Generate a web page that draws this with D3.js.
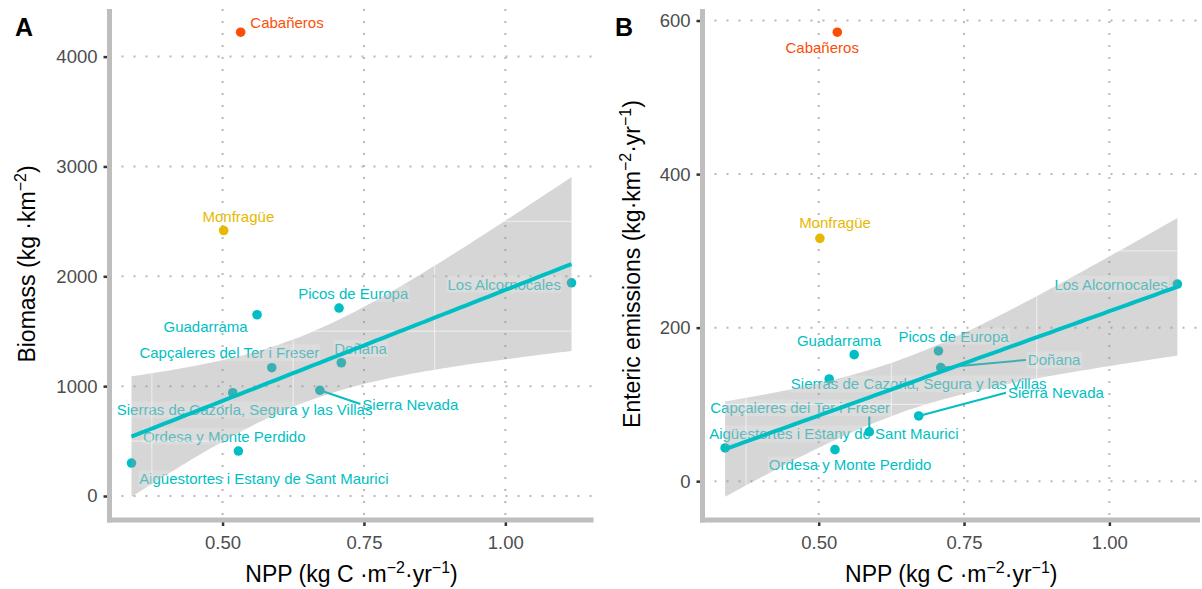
<!DOCTYPE html>
<html>
<head>
<meta charset="utf-8">
<script src="https://cdn.jsdelivr.net/npm/d3@7"></script>
<style>
body { margin: 0; background: #fff; }
text { font-family: "Liberation Sans", Arial, sans-serif; }
</style>
</head>
<body>
<svg width="1202" height="589"></svg>
<script>
// one entry per national park, same order in every array
var parks = ["Cabañeros", "Monfragüe", "Los Alcornocales", "Picos de Europa", "Guadarrama",
  "Capçaleres del Ter i Freser", "Doñana", "Sierras de Cazorla, Segura y las Villas",
  "Sierra Nevada", "Ordesa y Monte Perdido", "Aigüestortes i Estany de Sant Maurici"];
var groups = ["high", "mid", "fit", "fit", "fit", "fit", "fit", "fit", "fit", "fit", "fit"];
var npp = [0.532, 0.502, 1.117, 0.706, 0.561, 0.587, 0.710, 0.518, 0.672, 0.528, 0.339];
var biomass = [4222, 2417, 1941, 1711, 1650, 1168, 1213, 940, 962, 409, 300];
var enteric = [584.8, 316.3, 256.8, 169.6, 164.8, 64.2, 147.9, 133.1, 85, 41.1, 43.3];

// where the repelled labels ended up, in data units
var labelNppA = [0.614, 0.528, 0.998, 0.731, 0.470, 0.512, 0.744, 0.539, 0.832, 0.503, 0.573];
var labelValA = [4313, 2548, 1929, 1844, 1540, 1304, 1344, 783, 837, 546, 155];
var labelNppB = [0.506, 0.528, 1.003, 0.732, 0.535, 0.468, 0.905, 0.672, 0.908, 0.554, 0.526];
var labelValB = [564.3, 336.6, 256.8, 189.1, 183.9, 95.4, 157.9, 126.6, 115.3, 21.2, 61.6];
var segmentsA = ["Sierra Nevada"];
var segmentsB = ["Doñana", "Sierra Nevada", "Capçaleres del Ter i Freser"];

var xTicks = [0.5, 0.75, 1.0];
var yTicksA = [0, 1000, 2000, 3000, 4000];
var yTicksB = [0, 200, 400, 600];

var colors = {high: "#FC4E07", mid: "#E7B800", fit: "#00BFC4"};
var tCrit = 2.364624; // t(0.975, df = 7)

var svg = d3.select("svg");

function fitLine(xs, ys) {
  var n = xs.length, mx = d3.mean(xs), my = d3.mean(ys);
  var sxx = d3.sum(xs, function(x) { return (x - mx) * (x - mx); });
  var sxy = d3.sum(xs, function(x, i) { return (x - mx) * (ys[i] - my); });
  var b = sxy / sxx, a = my - b * mx;
  var sse = d3.sum(xs, function(x, i) { var r = ys[i] - (a + b * x); return r * r; });
  var s = Math.sqrt(sse / (n - 2));
  var lo = d3.min(xs), hi = d3.max(xs);
  return d3.range(80).map(function(k) {
    var x = lo + (hi - lo) * k / 79;
    var yh = a + b * x;
    var se = s * Math.sqrt(1 / n + (x - mx) * (x - mx) / sxx);
    return {x: x, y: yh, lo: yh - tCrit * se, hi: yh + tCrit * se};
  });
}

function expand(lo, hi) {
  var d = (hi - lo) * 0.05;
  return [lo - d, hi + d];
}

function title(sel, parts) {
  parts.forEach(function(p) {
    if (p[1]) {
      sel.append("tspan").attr("font-size", "16px").attr("dy", -9).text(p[0]);
    } else {
      sel.append("tspan").attr("font-size", "23px").attr("dy", p[2] || 0).text(p[0]);
    }
  });
}

function panel(cfg) {
  var L = cfg.left, R = cfg.right, T = 9, B = 520;
  var values = cfg.values;
  var fitIdx = d3.range(parks.length).filter(function(i) { return groups[i] == "fit"; });
  var band = fitLine(fitIdx.map(function(i) { return npp[i]; }), fitIdx.map(function(i) { return values[i]; }));

  var x = d3.scaleLinear().domain(expand(d3.min(npp), d3.max(npp))).range([L, R]);
  var ymin = Math.min(d3.min(values), d3.min(band, function(d) { return d.lo; }));
  var ymax = Math.max(d3.max(values), d3.max(band, function(d) { return d.hi; }));
  var y = d3.scaleLinear().domain(expand(ymin, ymax)).range([B, T]);

  var g = svg.append("g");

  // dotted major grid
  g.selectAll(".gx").data(xTicks).enter().append("line")
    .attr("x1", x).attr("x2", x).attr("y1", T).attr("y2", B)
    .attr("stroke", "#b8b8b8").attr("stroke-width", 2).attr("stroke-dasharray", "2 10");
  g.selectAll(".gy").data(cfg.yTicks).enter().append("line")
    .attr("y1", y).attr("y2", y).attr("x1", L + 12).attr("x2", R)
    .attr("stroke", "#b8b8b8").attr("stroke-width", 2).attr("stroke-dasharray", "2 10");

  // points
  g.selectAll("circle").data(parks).enter().append("circle")
    .attr("cx", function(d, i) { return x(npp[i]); })
    .attr("cy", function(d, i) { return y(values[i]); })
    .attr("r", 4.8)
    .attr("fill", function(d, i) { return colors[groups[i]]; });

  // labels
  var labels = g.selectAll(".lab").data(parks).enter().append("text")
    .attr("x", function(d, i) { return x(cfg.labelX[i]); })
    .attr("y", function(d, i) { return y(cfg.labelY[i]); })
    .attr("text-anchor", "middle").attr("dominant-baseline", "central")
    .attr("font-size", "15px")
    .attr("fill", function(d, i) { return colors[groups[i]]; })
    .text(function(d) { return d; });

  var boxes = [];
  labels.each(function(d, i) { boxes[i] = this.getBBox(); });

  // segments to the label box
  parks.forEach(function(p, i) {
    if (cfg.segments.indexOf(p) < 0) return;
    var bb = boxes[i], px = x(npp[i]), py = y(values[i]), ex, ey;
    if (px < bb.x || px > bb.x + bb.width) {
      ex = px < bb.x ? bb.x - 2 : bb.x + bb.width + 2;
      ey = bb.y + bb.height / 2;
    } else {
      ex = px;
      ey = py > bb.y ? bb.y + bb.height : bb.y;
    }
    g.insert("line", "text").attr("x1", px).attr("y1", py).attr("x2", ex).attr("y2", ey)
      .attr("stroke", colors[groups[i]]).attr("stroke-width", 2);
  });

  // confidence band
  var area = d3.area().x(function(d) { return x(d.x); })
    .y0(function(d) { return y(d.lo); }).y1(function(d) { return y(d.hi); });
  g.append("path").attr("d", area(band)).attr("fill", "#999999").attr("fill-opacity", 0.4);

  // minor grid and label boxes only show through the band
  svg.append("clipPath").attr("id", "clip" + cfg.name)
    .append("path").attr("d", area(band));
  var over = g.append("g").attr("clip-path", "url(#clip" + cfg.name + ")");
  var xMinor = d3.range(0.375, 1.2, 0.25);
  over.selectAll(".mx").data(xMinor).enter().append("line")
    .attr("x1", x).attr("x2", x).attr("y1", T).attr("y2", B)
    .attr("stroke", "#fff").attr("stroke-width", 1.2).attr("stroke-opacity", 0.5);
  over.selectAll(".my").data(cfg.yMinor).enter().append("line")
    .attr("y1", y).attr("y2", y).attr("x1", L).attr("x2", R)
    .attr("stroke", "#fff").attr("stroke-width", 1.2).attr("stroke-opacity", 0.5);
  over.selectAll("rect").data(boxes).enter().append("rect")
    .attr("x", function(b) { return b.x - 1; }).attr("y", function(b) { return b.y; })
    .attr("width", function(b) { return b.width + 2; }).attr("height", function(b) { return b.height; })
    .attr("fill", "#fff").attr("fill-opacity", 0.15);

  // fitted line
  g.append("path")
    .attr("d", d3.line().x(function(d) { return x(d.x); }).y(function(d) { return y(d.y); })(band))
    .attr("fill", "none").attr("stroke", colors.fit).attr("stroke-width", 4);

  // axes
  var ax = g.append("g").attr("transform", "translate(0," + B + ")")
    .call(d3.axisBottom(x).tickValues(xTicks).tickFormat(d3.format(".2f")).tickSize(6).tickPadding(10));
  var ay = g.append("g").attr("transform", "translate(" + L + ",0)")
    .call(d3.axisLeft(y).tickValues(cfg.yTicks).tickFormat(d3.format("d")).tickSize(6).tickPadding(6));
  [ax, ay].forEach(function(a) {
    a.select(".domain").remove();
    a.selectAll(".tick line").attr("stroke", "#333").attr("stroke-width", 2.5);
    a.selectAll(".tick text").attr("fill", "#4d4d4d").attr("font-size", "18.5px")
      .attr("font-family", "Liberation Sans, Arial, sans-serif");
  });
  g.append("line").attr("x1", L).attr("x2", L).attr("y1", T).attr("y2", B + 2.5)
    .attr("stroke", "#bebebe").attr("stroke-width", 5);
  g.append("line").attr("x1", L - 2.5).attr("x2", R).attr("y1", B).attr("y2", B)
    .attr("stroke", "#bebebe").attr("stroke-width", 5);

  // titles
  g.append("text").attr("x", cfg.letterX).attr("y", 36)
    .attr("font-size", "25px").attr("font-weight", "bold").text(cfg.name);
  title(g.append("text").attr("x", (L + R) / 2).attr("y", 582).attr("text-anchor", "middle"),
    [["NPP (kg C ·m", false], ["−2", true], ["·yr", false, 9], ["−1", true], [")", false, 9]]);
  title(g.append("text").attr("transform", "translate(" + cfg.ytitleX + ",264) rotate(-90)")
    .attr("text-anchor", "middle"), cfg.ytitle);
}

panel({
  name: "A", left: 109.5, right: 593.5, letterX: 15, ytitleX: 35,
  values: biomass, labelX: labelNppA, labelY: labelValA, segments: segmentsA,
  yTicks: yTicksA, yMinor: [500, 1500, 2500, 3500],
  ytitle: [["Biomass (kg ·km", false], ["−2", true], [")", false, 9]]
});
panel({
  name: "B", left: 702.5, right: 1200, letterX: 615, ytitleX: 640,
  values: enteric, labelX: labelNppB, labelY: labelValB, segments: segmentsB,
  yTicks: yTicksB, yMinor: [100, 300, 500],
  ytitle: [["Enteric emissions (kg·km", false], ["−2", true], ["·yr", false, 9], ["−1", true], [")", false, 9]]
});
</script>
</body>
</html>
